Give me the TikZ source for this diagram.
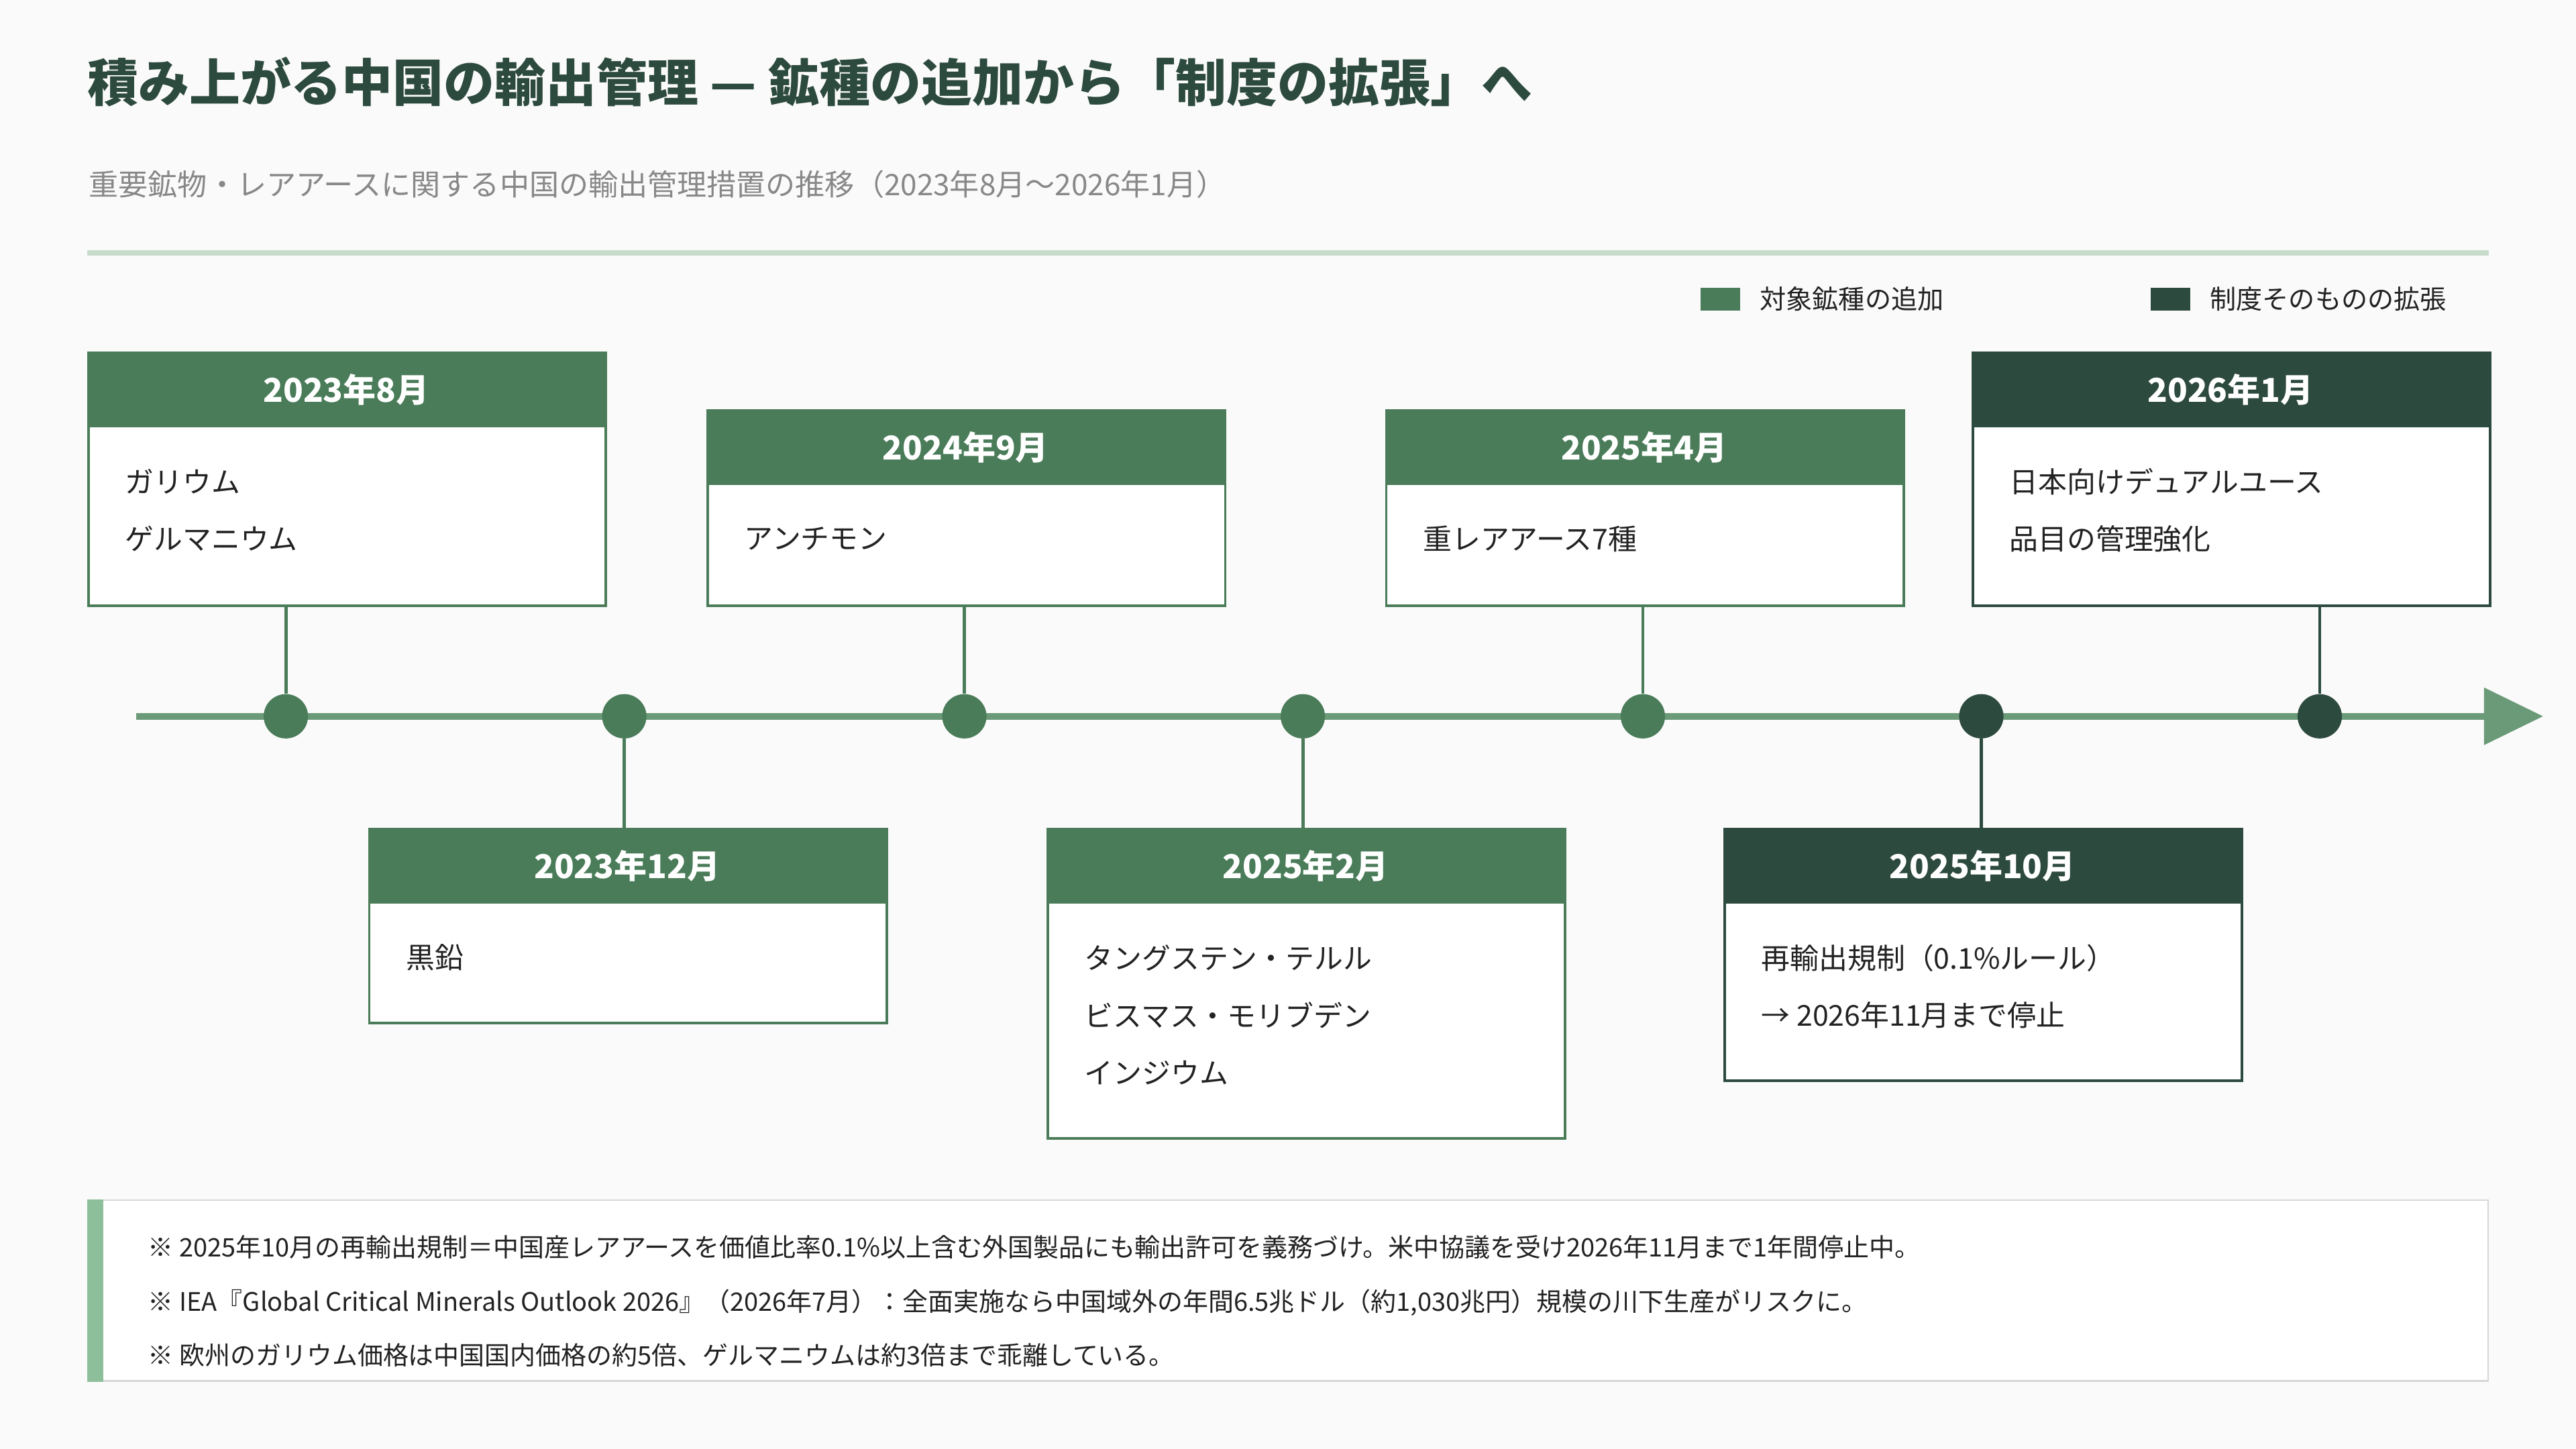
\documentclass[tikz,border=0pt]{standalone}
\usepackage{fontspec}
\setmainfont{Noto Sans CJK JP}
\usetikzlibrary{arrows.meta}
\definecolor{cg}{HTML}{4A7C59}
\definecolor{cd}{HTML}{2D4A3E}
\definecolor{cl}{HTML}{6B9A78}
\definecolor{bg}{HTML}{FAFAFA}
\definecolor{gy}{HTML}{888888}
\definecolor{tx}{HTML}{222222}
\begin{document}
\begin{tikzpicture}[x=1pt,y=-1pt,
 body/.style={draw=#1,line width=1.6pt,fill=white,anchor=north west,minimum width=315pt,inner sep=0pt},
 head/.style={fill=#1,anchor=north west,minimum width=315pt,minimum height=46pt,inner sep=0pt,text=white,font=\fontsize{20}{24}\selectfont\bfseries},
 ln/.style={anchor=west,inner sep=0pt,text=tx,font=\fontsize{17.5}{20}\selectfont},
 dot/.style={circle,fill=#1,minimum size=27pt,inner sep=0pt},
 conn/.style={draw=#1,line width=2pt},
 note/.style={anchor=west,inner sep=0pt,text=tx,font=\fontsize{15.5}{18}\selectfont}]
\fill[bg] (0,0) rectangle (1568,882);
\useasboundingbox (0,0) rectangle (1568,882);
\node[anchor=west,inner sep=0pt,text=cd,font=\fontsize{31}{36}\selectfont\bfseries] (title) at (53,50) {積み上がる中国の輸出管理 — 鉱種の追加から「制度の拡張」へ};
\node[anchor=west,inner sep=0pt,text=gy,font=\fontsize{18}{22}\selectfont] (sub) at (54,112) {重要鉱物・レアアースに関する中国の輸出管理措置の推移（2023年8月〜2026年1月）};
\draw[draw={rgb,255:red,200;green,220;blue,203},line width=3pt] (53,154) -- (1515,154);
\node[fill=cg,minimum width=24pt,minimum height=14pt,inner sep=0pt] (lg1) at (1047,182) {};
\node[ln,font=\fontsize{16}{19}\selectfont] (lt1) at (1071,182) {対象鉱種の追加};
\node[fill=cd,minimum width=24pt,minimum height=14pt,inner sep=0pt] (lg2) at (1321,182) {};
\node[ln,font=\fontsize{16}{19}\selectfont] (lt2) at (1345,182) {制度そのものの拡張};
% timeline
\coordinate (ts) at (83,436); \coordinate (te) at (1548,436);
\draw[cl,line width=4pt,-{Triangle[length=36pt,width=34pt]}] (ts) -- (te);
\node[dot=cg] (d1) at (174,436) {};
\node[dot=cg] (d2) at (380,436) {};
\node[dot=cg] (d3) at (587,436) {};
\node[dot=cg] (d4) at (793,436) {};
\node[dot=cg] (d5) at (1000,436) {};
\node[dot=cd] (d6) at (1206,436) {};
\node[dot=cd] (d7) at (1412,436) {};
% boxes
\node[body=cg,minimum height=154pt] (b1) at (53,214) {};
\node[head=cg] (h1) at (53,214) {2023年8月};
\node[ln] (t1a) at (76,293) {ガリウム};
\node[ln] (t1b) at (76,328) {ゲルマニウム};
\node[body=cg,minimum height=118pt] (b2) at (224,504) {};
\node[head=cg] (h2) at (224,504) {2023年12月};
\node[ln] (t2a) at (247,583) {黒鉛};
\node[body=cg,minimum height=119pt] (b3) at (430,249) {};
\node[head=cg] (h3) at (430,249) {2024年9月};
\node[ln] (t3a) at (453,328) {アンチモン};
\node[body=cg,minimum height=188pt] (b4) at (637,504) {};
\node[head=cg] (h4) at (637,504) {2025年2月};
\node[ln] (t4a) at (660,583) {タングステン・テルル};
\node[ln] (t4b) at (660,618) {ビスマス・モリブデン};
\node[ln] (t4c) at (660,653) {インジウム};
\node[body=cg,minimum height=119pt] (b5) at (843,249) {};
\node[head=cg] (h5) at (843,249) {2025年4月};
\node[ln] (t5a) at (866,328) {重レアアース7種};
\node[body=cd,minimum height=153pt] (b6) at (1049,504) {};
\node[head=cd] (h6) at (1049,504) {2025年10月};
\node[ln] (t6a) at (1072,583) {再輸出規制（0.1\%ルール）};
\node[ln] (t6b) at (1072,618) {→ 2026年11月まで停止};
\node[body=cd,minimum height=154pt] (b7) at (1200,214) {};
\node[head=cd] (h7) at (1200,214) {2026年1月};
\node[ln] (t7a) at (1223,293) {日本向けデュアルユース};
\node[ln] (t7b) at (1223,328) {品目の管理強化};
% connectors
\draw[conn=cg] (d1 |- b1.south) -- (d1);
\draw[conn=cg] (d2 |- b2.north) -- (d2);
\draw[conn=cg] (d3 |- b3.south) -- (d3);
\draw[conn=cg] (d4 |- b4.north) -- (d4);
\draw[conn=cg] (d5 |- b5.south) -- (d5);
\draw[conn=cd] (d6 |- b6.north) -- (d6);
\draw[conn=cd] (d7 |- b7.south) -- (d7);
% notes
\node[draw={rgb,255:red,215;green,215;blue,215},fill=white,anchor=north west,minimum width=1461pt,minimum height=110pt,inner sep=0pt,line width=1pt] (nb) at (53,730) {};
\fill[color={rgb,255:red,141;green,191;blue,154}] (nb.north west) rectangle ([xshift=10pt]nb.south west);
\node[note] (n1) at (90,759) {※ 2025年10月の再輸出規制＝中国産レアアースを価値比率0.1\%以上含む外国製品にも輸出許可を義務づけ。米中協議を受け2026年11月まで1年間停止中。};
\node[note] (n2) at (90,793) {※ IEA『Global Critical Minerals Outlook 2026』（2026年7月）：全面実施なら中国域外の年間6.5兆ドル（約1,030兆円）規模の川下生産がリスクに。};
\node[note] (n3) at (90,825) {※ 欧州のガリウム価格は中国国内価格の約5倍、ゲルマニウムは約3倍まで乖離している。};
\end{tikzpicture}
\end{document}
